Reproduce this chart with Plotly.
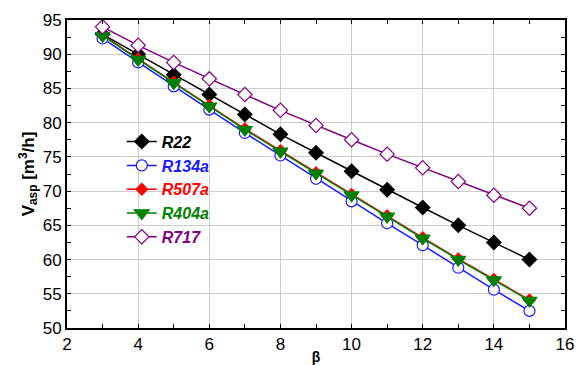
import plotly.graph_objects as go

beta = [3, 4, 5, 6, 7, 8, 9, 10, 11, 12, 13, 14, 15]
r22 = [92.9, 90.0, 87.0, 84.1, 81.2, 78.3, 75.6, 72.9, 70.2, 67.6, 65.0, 62.5, 60.0]
r134a = [92.3, 88.8, 85.3, 81.9, 78.5, 75.2, 71.8, 68.5, 65.3, 62.1, 58.8, 55.6, 52.5]
r507a = [92.8, 89.3, 85.9, 82.5, 79.1, 75.9, 72.7, 69.5, 66.4, 63.2, 60.1, 57.1, 54.1]
r404a = [92.7, 89.2, 85.8, 82.4, 79.0, 75.8, 72.6, 69.4, 66.3, 63.1, 60.0, 57.0, 54.0]
r717 = [94.0, 91.3, 88.8, 86.4, 84.1, 81.8, 79.6, 77.5, 75.4, 73.4, 71.4, 69.4, 67.5]

x_range = [2, 16]
y_range = [50, 95]
x_major = [2, 4, 6, 8, 10, 12, 14, 16]
y_major = [50, 55, 60, 65, 70, 75, 80, 85, 90, 95]

# name, values, line colour, symbol, size, fill
series = [
    ("R22", r22, "black", "diamond", 11, "black"),
    ("R134a", r134a, "#1a1aff", "circle", 11, "white"),
    ("R507a", r507a, "red", "diamond", 9, "red"),
    ("R404a", r404a, "green", "triangle-down", 13, "green"),
    ("R717", r717, "purple", "diamond", 11, "white"),
]

fig = go.Figure()
for name, ys, col, sym, size, fill in series:
    fig.add_trace(go.Scatter(
        x=beta, y=ys, mode="lines+markers",
        name=f"<span style='color:{col}'><b><i>{name}</i></b></span>",
        line=dict(color=col, width=1.5),
        marker=dict(symbol=sym, size=size, color=fill,
                    line=dict(color=col, width=1.2)),
    ))

axis_common = dict(
    showline=True, linecolor="black", linewidth=2, mirror="ticks",
    ticks="inside", ticklen=4, tickcolor="black",
    showgrid=True, gridcolor="#cccccc", gridwidth=1, zeroline=False,
    automargin=False,
    tickfont=dict(family="Liberation Sans, Arial", size=17, color="black"),
)

fig.update_layout(
    xaxis=dict(range=x_range, tickvals=x_major,
               minor=dict(ticks="inside", ticklen=4, dtick=1, tick0=2, tickcolor="black", showgrid=False),
               title=dict(text="<b>β</b>", font=dict(family="Liberation Sans, Arial", size=14, color="black"), standoff=0),
               **axis_common),
    yaxis=dict(range=y_range, tickvals=y_major,
               minor=dict(ticks="inside", ticklen=4, dtick=2.5, tick0=50, tickcolor="black", showgrid=False),
               title=dict(text="<b>V<sub>asp</sub> [m<sup>3</sup>/h]</b>", font=dict(family="Liberation Sans, Arial", size=17, color="black"), standoff=4),
               **axis_common),
    width=584, height=365,
    margin=dict(l=67, r=19, t=20, b=37),
    plot_bgcolor="white", paper_bgcolor="white",
    legend=dict(x=0.11, y=0.66, xanchor="left", yanchor="top", bgcolor="rgba(0,0,0,0)",
                font=dict(family="Liberation Sans, Arial", size=16), tracegroupgap=0,
                itemwidth=30),
    showlegend=True,
)

fig.write_html("out.html", post_script="document.body.style.margin='0';", config={"displayModeBar": False})
